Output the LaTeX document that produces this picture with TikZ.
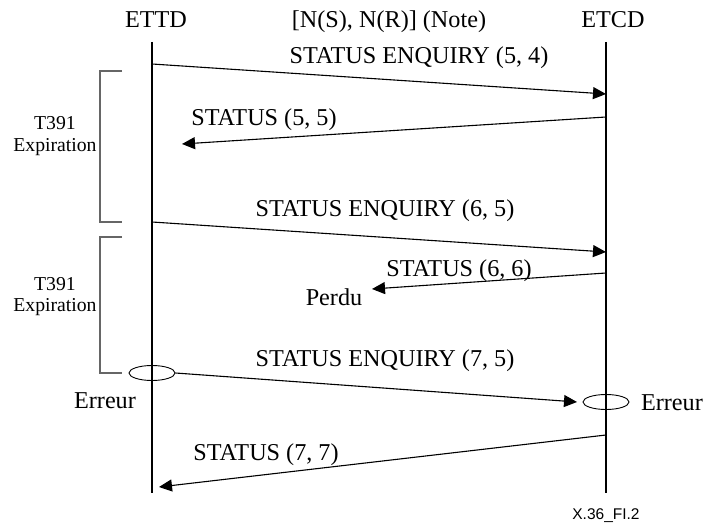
\documentclass[tikz,border=0pt]{standalone}
\usepackage{fontspec}
\setmainfont{Liberation Serif}
\setsansfont{Liberation Sans}
\usetikzlibrary{arrows.meta,shapes.geometric}
\begin{document}
\begin{tikzpicture}[x=1pt,y=-1pt,
  lbl/.style={font=\fontsize{24.2}{27}\selectfont, inner sep=0pt, anchor=base},
  small/.style={font=\fontsize{19.7}{21}\selectfont, inner sep=0pt, anchor=base},
  life/.style={line width=2pt},
  msg/.style={line width=1.1pt, -{Triangle[length=13pt,width=12pt]}},
  brk/.style={line width=1.3pt, draw=black!60},
  err/.style={draw, ellipse, line width=0.9pt, minimum width=46pt, minimum height=15pt, inner sep=0pt}
]
\useasboundingbox (0,0) rectangle (704,524);

% headers
\node[lbl] (ettd) at (156,28) {ETTD};
\node[lbl] (etcd) at (613,28) {ETCD};
\node[lbl] (note) at (389,28) {[N(S), N(R)] (Note)};

% lifelines
\coordinate (dT) at (152,42);
\coordinate (dB) at (152,493);
\coordinate (cT) at (606,42);
\coordinate (cB) at (606,493);
\draw[life] (dT) -- (dB);
\draw[life] (cT) -- (cB);

% brackets
\coordinate (b1a) at (122,71);
\coordinate (b1b) at (122,222);
\coordinate (b2a) at (122,237);
\coordinate (b2b) at (122,373);
\draw[brk] (b1a) -- (100,71) -- (100,222) -- (b1b);
\draw[brk] (b2a) -- (100,237) -- (100,373) -- (b2b);
\node[small] (t1a) at (55,130) {T391};
\node[small] (t1b) at (55,151) {Expiration};
\node[small] (t2a) at (55,290) {T391};
\node[small] (t2b) at (55,311) {Expiration};

% message 1
\coordinate (m1s) at (152,64);
\coordinate (m1e) at (606,94);
\draw[msg] (m1s) -- (m1e);
\node[lbl] (l1) at (419,64) {STATUS ENQUIRY (5, 4)};

% message 2
\coordinate (m2s) at (606,117);
\coordinate (m2e) at (182,144);
\draw[msg] (m2s) -- (m2e);
\node[lbl] (l2) at (264,126) {STATUS (5, 5)};

% message 3
\coordinate (m3s) at (152,222);
\coordinate (m3e) at (606,252);
\draw[msg] (m3s) -- (m3e);
\node[lbl] (l3) at (385,216) {STATUS ENQUIRY (6, 5)};

% message 4 (lost)
\coordinate (m4s) at (606,273);
\coordinate (m4e) at (372,289);
\draw[msg] (m4s) -- (m4e);
\node[lbl] (l4) at (459,276) {STATUS (6, 6)};
\node[lbl] (perdu) at (334,305) {Perdu};

% message 5 (error)
\node[err] (e1) at (152,373) {};
\node[err] (e2) at (606,402) {};
\coordinate (m5e) at (577,402);
\draw[msg] (e1.east) -- (m5e);
\node[lbl] (l5) at (385,366) {STATUS ENQUIRY (7, 5)};
\node[lbl] (er1) at (105,408) {Erreur};
\node[lbl, anchor=base east] (er2) at (703,410) {Erreur};

% message 6
\coordinate (m6s) at (606,435);
\coordinate (m6e) at (159,487);
\draw[msg] (m6s) -- (m6e);
\node[lbl] (l6) at (266,460) {STATUS (7, 7)};

% figure id
\node[font=\sffamily\fontsize{15.5}{17}\selectfont, inner sep=0pt, anchor=base] (fig) at (606,519) {X.36\_FI.2};
\end{tikzpicture}
\end{document}
